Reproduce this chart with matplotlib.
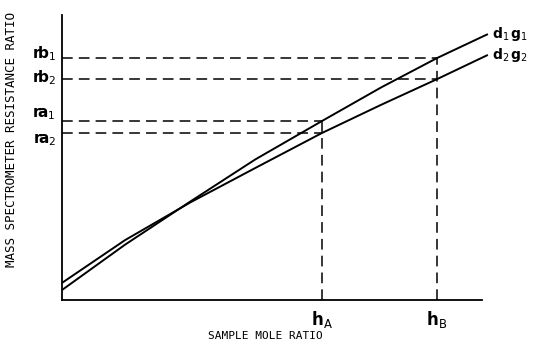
import matplotlib
matplotlib.use("Agg")
import matplotlib.pyplot as plt

# Curve points (arbitrary units, axes span 0..10)
d1_x = [0.0, 1.5, 3.05, 4.6, 6.19, 7.6, 8.93, 10.14]
d1_y = [0.35, 1.94, 3.45, 4.93, 6.28, 7.46, 8.49, 9.33]
d2_x = [0.0, 1.5, 3.05, 4.6, 6.19, 7.6, 8.93, 10.14]
d2_y = [0.60, 2.10, 3.42, 4.63, 5.86, 6.85, 7.75, 8.60]

h_vals = [6.19, 8.93]
h_labels = [r"$\mathbf{h}_{\mathrm{A}}$", r"$\mathbf{h}_{\mathrm{B}}$"]
r_vals = [8.49, 7.75, 6.28, 5.86]
r_labels = [
    r"$\mathbf{r}\!\mathbf{b}_{1}$",
    r"$\mathbf{r}\!\mathbf{b}_{2}$",
    r"$\mathbf{r}\!\mathbf{a}_{1}$",
    r"$\mathbf{r}\!\mathbf{a}_{2}$",
]
r_h = [8.93, 8.93, 6.19, 6.19]
r_off = [0.15, 0.05, 0.25, -0.25]

fig = plt.figure(figsize=(5.33, 3.44), dpi=100)
ax = fig.add_axes([0.1163, 0.1279, 0.7880, 0.8285])
ax.set_xlim(0, 10)
ax.set_ylim(0, 10)

for s in ["top", "right"]:
    ax.spines[s].set_visible(False)
for s in ["left", "bottom"]:
    ax.spines[s].set_linewidth(1.3)
ax.set_xticks([])
ax.set_yticks([])

ax.plot(d1_x, d1_y, color="black", lw=1.4, clip_on=False, solid_capstyle="butt")
ax.plot(d2_x, d2_y, color="black", lw=1.4, clip_on=False, solid_capstyle="butt")

dash = dict(color="black", lw=1.1, dashes=(7, 4))
for r, h in zip(r_vals, r_h):
    ax.plot([0, h], [r, r], **dash)
ax.plot([h_vals[0], h_vals[0]], [0, r_vals[2]], **dash)
ax.plot([h_vals[1], h_vals[1]], [0, r_vals[0]], **dash)

for h, lab in zip(h_vals, h_labels):
    ax.text(h, -0.3, lab, ha="center", va="top", fontsize=12)

for r, lab, off in zip(r_vals, r_labels, r_off):
    ax.text(-0.15, r + off, lab, ha="right", va="center", fontsize=11)

ax.text(d1_x[-1] + 0.1, d1_y[-1], r"$\mathbf{d}_{1}\,\mathbf{g}_{1}$",
        ha="left", va="center", fontsize=10)
ax.text(d2_x[-1] + 0.1, d2_y[-1], r"$\mathbf{d}_{2}\,\mathbf{g}_{2}$",
        ha="left", va="center", fontsize=10)

fig.text(0.497, 0.01, "SAMPLE MOLE RATIO", family="DejaVu Sans Mono",
         fontsize=8, ha="center", va="bottom")
fig.text(0.022, 0.595, "MASS SPECTROMETER RESISTANCE RATIO", family="DejaVu Sans Mono",
         fontsize=9, rotation=90, ha="center", va="center")

fig.savefig("out.png", dpi=100, facecolor="white")
